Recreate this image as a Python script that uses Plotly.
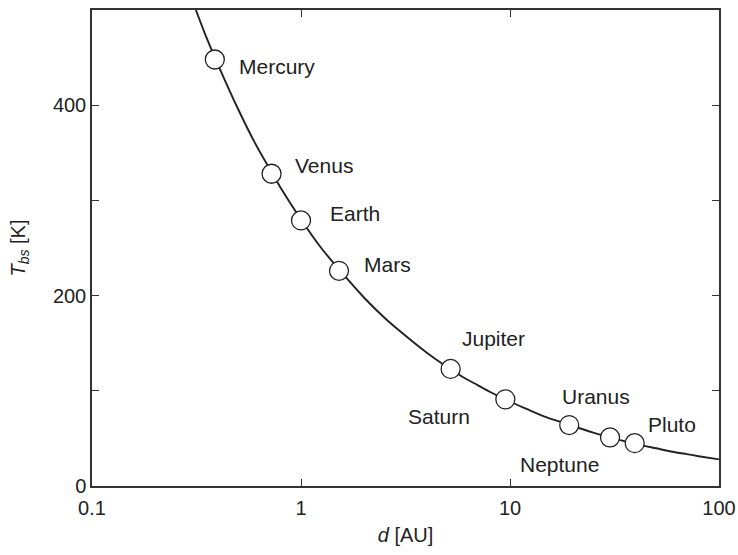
import math
import plotly.graph_objects as go

# Planets: mean distance from the Sun [AU] and blackbody temperature [K]
planets = ["Mercury", "Venus", "Earth", "Mars", "Jupiter", "Saturn", "Uranus", "Neptune", "Pluto"]
planet_d = [0.387, 0.723, 1.0, 1.52, 5.2, 9.5, 19.2, 30.1, 39.5]
planet_T = [448, 328, 279, 226, 123, 91, 64, 51, 45]

# Temperature curve sampled along distance
curve_d = [0.314, 0.35, 0.4, 0.5, 0.6, 0.7, 0.8, 1.0, 1.25, 1.5, 2, 2.5, 3, 4, 5, 6, 7, 8,
           10, 12, 15, 20, 25, 30, 40, 50, 60, 70, 80, 100]
curve_T = [500, 473, 443, 396, 361, 335, 313, 280, 250, 229, 198, 177, 162, 140, 125, 114,
           106, 99, 88.5, 81, 72, 63, 56, 51, 44, 39.6, 36, 33.5, 31.3, 28]

# Axis ticks
x_ticks = [0.1, 1, 10, 100]
x_ticktext = ["0.1", "1", "10", "100"]
y_ticks = [0, 200, 400]
y_ticktext = ["0", "200", "400"]

# Label placement relative to each marker (pixels): x shift, y shift, anchor
label_dx = [22, 21, 27, 23, 9, -33, -9, -92, 11]
label_dy = [-7, 8, 7, 6, 30, -17, 29, -27, 19]
label_anchor = ["left", "left", "left", "left", "left", "right", "left", "left", "left"]

ink = "#222222"
font_family = "Liberation Sans, Arial, sans-serif"

fig = go.Figure()
fig.add_trace(go.Scatter(
    x=curve_d, y=curve_T, mode="lines",
    line=dict(color=ink, width=1.9, shape="spline", smoothing=0.6),
    hoverinfo="skip", showlegend=False,
))
fig.add_trace(go.Scatter(
    x=planet_d, y=planet_T, mode="markers",
    marker=dict(size=19, color="white", line=dict(color=ink, width=1.3)),
    text=planets, showlegend=False,
))

# On a log axis, annotation x positions are given in log10 units
for name, d, T, dx, dy, anc in zip(planets, planet_d, planet_T, label_dx, label_dy, label_anchor):
    fig.add_annotation(
        x=math.log10(d), y=T, xref="x", yref="y", text=name, showarrow=False,
        xanchor=anc, yanchor="middle", xshift=dx, yshift=dy,
        font=dict(size=21, color=ink, family=font_family),
    )

axis_common = dict(
    showline=True, linecolor="#333333", linewidth=1.5, mirror="ticks",
    ticks="inside", ticklen=7, tickwidth=1.3, tickcolor="#333333",
    showgrid=False, zeroline=False,
    tickfont=dict(size=20, color=ink, family=font_family),
)

fig.update_xaxes(
    type="log", range=[-1, 2], tickvals=x_ticks, ticktext=x_ticktext,
    ticklabelstandoff=3,
    title=dict(text="<i>d</i> [AU]", font=dict(size=20, color=ink, family=font_family), standoff=10),
    **axis_common,
)
fig.update_yaxes(
    range=[0, 500], tickvals=y_ticks, ticktext=y_ticktext,
    minor=dict(dtick=100, tick0=0, ticks="inside", ticklen=7, tickwidth=1.3,
               tickcolor="#333333", showgrid=False),
    title=dict(text="<i>T<sub>bs</sub></i> [K]", font=dict(size=20, color=ink, family=font_family), standoff=22),
    **axis_common,
)

fig.update_layout(
    width=738, height=555,
    margin=dict(l=92, r=19, t=10, b=69, autoexpand=False),
    paper_bgcolor="white", plot_bgcolor="white",
)

fig.write_html("out.html")
